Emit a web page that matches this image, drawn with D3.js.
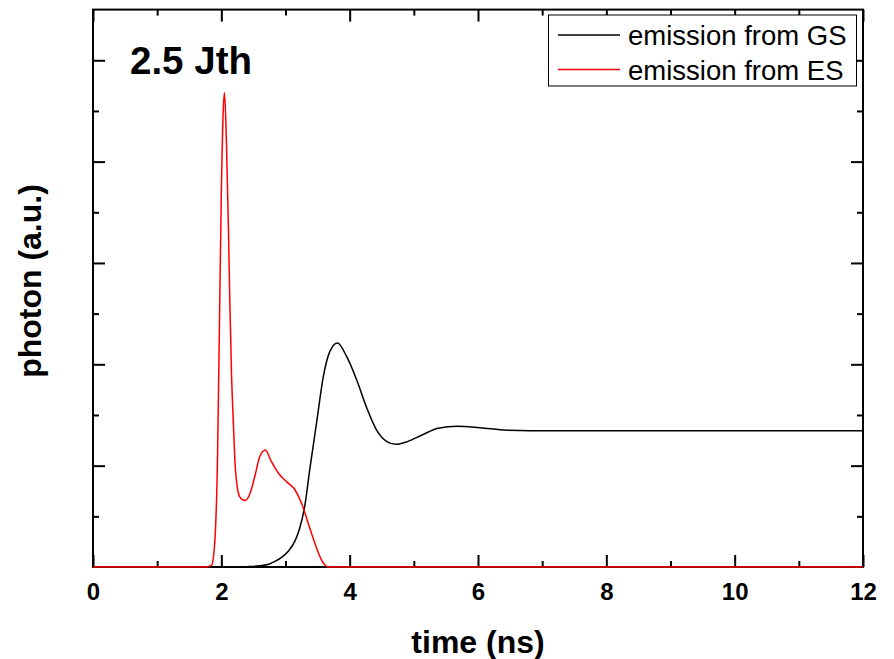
<!DOCTYPE html>
<html>
<head>
<meta charset="utf-8">
<script src="https://cdn.jsdelivr.net/npm/d3@7"></script>
<style>
  html, body { margin: 0; padding: 0; background: #fff; }
  svg { display: block; font-family: "Liberation Sans", Arial, sans-serif; }
</style>
</head>
<body>
<svg id="chart" width="894" height="659"></svg>
<script>
// ---- data ----
const timeES = [0, 1.70, 1.80, 1.85, 1.90, 1.94, 1.97, 2.00, 2.03, 2.05, 2.08, 2.11, 2.135, 2.16, 2.19, 2.21, 2.24, 2.29, 2.37, 2.45, 2.52, 2.60, 2.685, 2.78, 2.89, 3.02, 3.15, 3.25, 3.355, 3.46, 3.56, 3.67, 3.75, 12];
const emissionES = [0, 0, 0.005, 0.02, 0.27, 1.06, 2.37, 3.69, 4.51, 4.68, 4.18, 3.36, 2.54, 1.88, 1.385, 1.06, 0.83, 0.69, 0.655, 0.73, 0.89, 1.09, 1.155, 1.04, 0.925, 0.84, 0.76, 0.63, 0.43, 0.23, 0.07, 0.0, 0, 0];
const timeGS = [0, 2.2, 2.4, 2.6, 2.75, 2.85, 2.95, 3.05, 3.15, 3.22, 3.30, 3.38, 3.49, 3.59, 3.69, 3.81, 3.95, 4.11, 4.26, 4.42, 4.58, 4.72, 4.90, 5.12, 5.38, 5.68, 6.03, 6.45, 6.81, 7.5, 12];
const emissionGS = [0, 0, 0.003, 0.012, 0.03, 0.06, 0.10, 0.16, 0.26, 0.38, 0.60, 0.97, 1.45, 1.88, 2.125, 2.21, 2.08, 1.845, 1.58, 1.35, 1.237, 1.21, 1.237, 1.30, 1.37, 1.39, 1.375, 1.35, 1.345, 1.345, 1.345];
const xMajorTicks = [0, 2, 4, 6, 8, 10, 12];
const xMinorTicks = [1, 3, 5, 7, 9, 11];
const yMajorTicks = [1, 2, 3, 4, 5];
const yMinorTicks = [0.5, 1.5, 2.5, 3.5, 4.5];
const seriesNames = ["emission from GS", "emission from ES"];
const seriesColors = ["#000000", "#ff0000"];
const annotation = "2.5 Jth";
const xTitle = "time (ns)";
const yTitle = "photon (a.u.)";

// ---- layout ----
const plotLeft = 93, plotRight = 863, plotTop = 9.6, plotBottom = 567;
const svg = d3.select("#chart");
const x = d3.scaleLinear().domain([0, 12]).range([plotLeft, plotRight]);
const y = d3.scaleLinear().domain([0, 5.5]).range([plotBottom, plotTop]);

function styleAxis(g) {
  g.select(".domain").remove();
  g.selectAll(".tick line").attr("stroke", "#000").attr("stroke-width", 2);
  g.selectAll(".tick text").attr("font-size", 24).attr("font-weight", "bold")
    .attr("fill", "#000").attr("font-family", "'Liberation Sans', Arial, sans-serif");
}

// bottom axis
svg.append("g").attr("transform", `translate(0,${plotBottom})`)
  .call(d3.axisBottom(x).tickValues(xMajorTicks).tickSizeInner(-12).tickSizeOuter(0).tickPadding(16).tickFormat(d3.format("d")))
  .call(styleAxis);
svg.append("g").attr("transform", `translate(0,${plotBottom})`)
  .call(d3.axisBottom(x).tickValues(xMinorTicks).tickSizeInner(-6).tickSizeOuter(0).tickFormat(""))
  .call(styleAxis);
// top axis
svg.append("g").attr("transform", `translate(0,${plotTop})`)
  .call(d3.axisTop(x).tickValues(xMajorTicks).tickSizeInner(-12).tickSizeOuter(0).tickFormat(""))
  .call(styleAxis);
svg.append("g").attr("transform", `translate(0,${plotTop})`)
  .call(d3.axisTop(x).tickValues(xMinorTicks).tickSizeInner(-6).tickSizeOuter(0).tickFormat(""))
  .call(styleAxis);
// left axis
svg.append("g").attr("transform", `translate(${plotLeft},0)`)
  .call(d3.axisLeft(y).tickValues(yMajorTicks).tickSizeInner(-12).tickSizeOuter(0).tickFormat(""))
  .call(styleAxis);
svg.append("g").attr("transform", `translate(${plotLeft},0)`)
  .call(d3.axisLeft(y).tickValues(yMinorTicks).tickSizeInner(-6).tickSizeOuter(0).tickFormat(""))
  .call(styleAxis);
// right axis
svg.append("g").attr("transform", `translate(${plotRight},0)`)
  .call(d3.axisRight(y).tickValues(yMajorTicks).tickSizeInner(-12).tickSizeOuter(0).tickFormat(""))
  .call(styleAxis);
svg.append("g").attr("transform", `translate(${plotRight},0)`)
  .call(d3.axisRight(y).tickValues(yMinorTicks).tickSizeInner(-6).tickSizeOuter(0).tickFormat(""))
  .call(styleAxis);

// frame
svg.append("rect")
  .attr("x", plotLeft).attr("y", plotTop)
  .attr("width", plotRight - plotLeft).attr("height", plotBottom - plotTop)
  .attr("fill", "none").attr("stroke", "#000").attr("stroke-width", 2);

// lines
const line = d3.line().x(d => x(d[0])).y(d => y(d[1])).curve(d3.curveMonotoneX);
const gsData = timeGS.map((t, i) => [t, emissionGS[i]]);
const esData = timeES.map((t, i) => [t, emissionES[i]]);
svg.append("path").datum(gsData).attr("d", line)
  .attr("fill", "none").attr("stroke", seriesColors[0]).attr("stroke-width", 1.5);
svg.append("path").datum(esData).attr("d", line)
  .attr("fill", "none").attr("stroke", seriesColors[1]).attr("stroke-width", 1.5);

// annotation
svg.append("text").attr("x", 130).attr("y", 73.5)
  .attr("font-size", 38.5).attr("font-weight", "bold").attr("fill", "#000")
  .text(annotation);

// axis titles
svg.append("text").attr("x", (plotLeft + plotRight) / 2).attr("y", 653)
  .attr("text-anchor", "middle").attr("font-size", 32).attr("font-weight", "bold")
  .text(xTitle);
svg.append("text").attr("transform", `translate(41,281) rotate(-90)`)
  .attr("text-anchor", "middle").attr("font-size", 32).attr("font-weight", "bold")
  .text(yTitle);

// legend
const lg = svg.append("g");
lg.append("rect").attr("x", 548.5).attr("y", 15).attr("width", 308).attr("height", 71)
  .attr("fill", "#fff").attr("stroke", "#000").attr("stroke-width", 1);
const legendY = [35, 69.5];
const legendTextY = [45, 80];
seriesNames.forEach((name, i) => {
  lg.append("line").attr("x1", 558).attr("x2", 620).attr("y1", legendY[i]).attr("y2", legendY[i])
    .attr("stroke", seriesColors[i]).attr("stroke-width", 1.5);
  lg.append("text").attr("x", 628).attr("y", legendTextY[i])
    .attr("font-size", 27.5).attr("fill", "#000").text(name);
});
</script>
</body>
</html>
